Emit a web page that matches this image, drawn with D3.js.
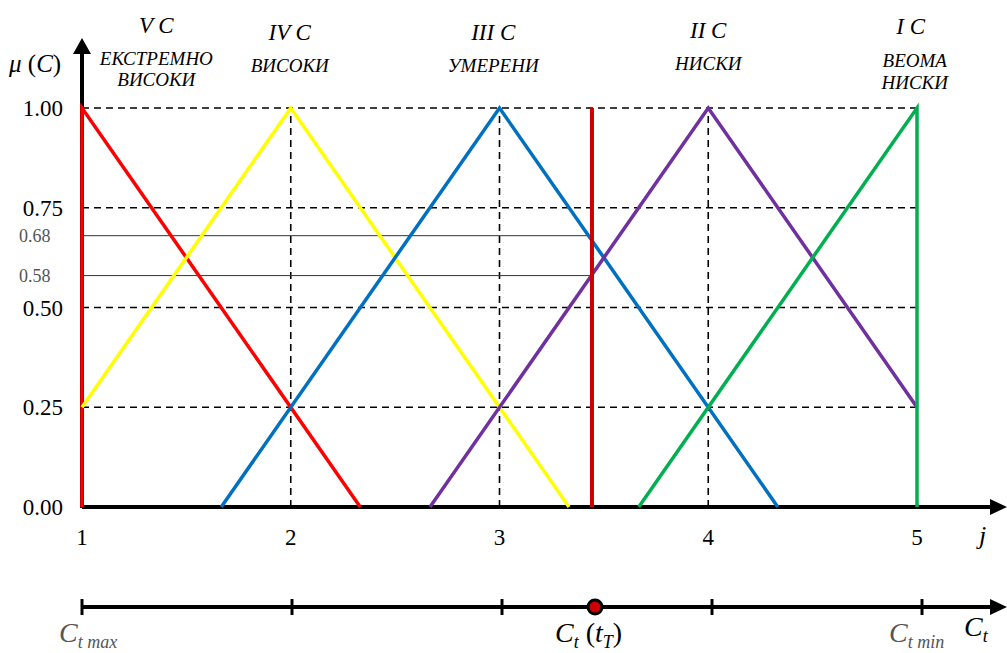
<!DOCTYPE html>
<html><head><meta charset="utf-8">
<script src="https://cdn.jsdelivr.net/npm/d3@7"></script>
<style>body{margin:0;background:#fff}svg{display:block}</style>
</head><body><svg id="c" width="1007" height="653" font-family="Liberation Serif"></svg>
<script>
// ---- data ----
const yTicks = [0, 0.25, 0.5, 0.75, 1];
const yTickLabels = ["0.00", "0.25", "0.50", "0.75", "1.00"];
const xTicks = [1, 2, 3, 4, 5];
const classNames = ["V C", "IV C", "III C", "II C", "I C"];
const classDesc = [["ЕКСТРЕМНО", "ВИСОКИ"], ["ВИСОКИ"], ["УМЕРЕНИ"], ["НИСКИ"], ["ВЕОМА", "НИСКИ"]];
const classPos = [1.356, 1.995, 2.97, 4.0, 4.97];
const seriesV = [[1, 0], [1, 1], [2.333, 0]];
const seriesIV = [[1, 0.25], [2, 1], [3.333, 0]];
const seriesIII = [[1.667, 0], [3, 1], [4.333, 0]];
const seriesII = [[2.667, 0], [4, 1], [5, 0.25]];
const seriesI = [[3.667, 0], [5, 1], [5, 0]];
const seriesColors = ["#ff0000", "#ffff00", "#0070c0", "#7030a0", "#00b050"];
const currentJ = 3.443;
const memberships = [0.68, 0.58];
const membershipLabels = ["0.68", "0.58"];
const bottomTicks = [1, 2, 3, 4, 5];

// ---- drawing ----
const svg = d3.select("#c");
const x = d3.scaleLinear().domain([1, 5]).range([82, 917]);
const y = d3.scaleLinear().domain([0, 1]).range([507, 108]);
const xb = d3.scaleLinear().domain([1, 5]).range([82, 922]);
const yb = 607;

// dashed grid
const g = svg.append("g");
yTicks.slice(1).forEach(t => {
  g.append("line").attr("x1", x(1)).attr("x2", x(5)).attr("y1", y(t)).attr("y2", y(t))
    .attr("stroke", "#000").attr("stroke-width", 1.6).attr("stroke-dasharray", "7,5");
});
xTicks.slice(1, 4).forEach(t => {
  g.append("line").attr("x1", x(t)).attr("x2", x(t)).attr("y1", y(0)).attr("y2", y(1))
    .attr("stroke", "#000").attr("stroke-width", 1.6).attr("stroke-dasharray", "7,5");
});

// membership thin lines
memberships.forEach((m, i) => {
  g.append("line").attr("x1", x(1)).attr("x2", x(currentJ)).attr("y1", y(m)).attr("y2", y(m))
    .attr("stroke", "#333").attr("stroke-width", 1);
  svg.append("text").attr("x", 19).attr("y", y(m) + 6).attr("font-size", 18).attr("fill", "#555").text(membershipLabels[i]);
});

// y axis line + arrow
svg.append("line").attr("x1", x(1)).attr("x2", x(1)).attr("y1", y(0) + 1).attr("y2", 52)
  .attr("stroke", "#000").attr("stroke-width", 4);
svg.append("path").attr("d", `M${x(1)},38 L${x(1) - 9},54 L${x(1) + 9},54 Z`).attr("fill", "#000");
// x axis
svg.append("line").attr("x1", x(1)).attr("x2", 992).attr("y1", y(0)).attr("y2", y(0))
  .attr("stroke", "#000").attr("stroke-width", 4);
svg.append("path").attr("d", `M1007,${y(0)} L990,${y(0) - 8} L990,${y(0) + 8} Z`).attr("fill", "#000");

// series
const line = d3.line().x(d => x(d[0])).y(d => y(d[1]));
[seriesV, seriesIV, seriesIII, seriesII, seriesI].forEach((s, i) => {
  svg.append("path").attr("d", line(s)).attr("fill", "none").attr("stroke", seriesColors[i])
    .attr("stroke-width", 3.5).attr("stroke-linejoin", "miter");
});
// current value line
svg.append("line").attr("x1", x(currentJ)).attr("x2", x(currentJ)).attr("y1", y(0)).attr("y2", y(1))
  .attr("stroke", "#cc0000").attr("stroke-width", 4);

// y tick labels
yTicks.forEach((t, i) => {
  svg.append("text").attr("x", 63).attr("y", y(t) + 8).attr("text-anchor", "end")
    .attr("font-size", 23).text(yTickLabels[i]);
});
// x tick labels
xTicks.forEach(t => {
  svg.append("text").attr("x", x(t)).attr("y", 545).attr("text-anchor", "middle")
    .attr("font-size", 23).text(t);
});
svg.append("text").attr("x", 979).attr("y", 544).attr("font-size", 26).attr("font-style", "italic").text("j");

// y label
const mu = svg.append("text").attr("x", 9).attr("y", 72).attr("font-size", 25);
mu.append("tspan").attr("font-style", "italic").text("μ");
mu.append("tspan").text(" (");
mu.append("tspan").attr("font-style", "italic").text("C");
mu.append("tspan").text(")");

// class labels
const nameY = [33, 40, 40, 38, 34];
const descY = [[65, 86], [72], [72], [70], [67, 89]];
classNames.forEach((n, i) => {
  svg.append("text").attr("x", x(classPos[i])).attr("y", nameY[i]).attr("text-anchor", "middle")
    .attr("font-size", 23).attr("font-style", "italic").text(n);
  classDesc[i].forEach((d, k) => {
    svg.append("text").attr("x", x(classPos[i]) + (i === 4 ? 4 : 0)).attr("y", descY[i][k]).attr("text-anchor", "middle")
      .attr("font-size", 19).attr("font-style", "italic").text(d);
  });
});

// bottom axis
svg.append("line").attr("x1", xb(1)).attr("x2", 992).attr("y1", yb).attr("y2", yb)
  .attr("stroke", "#000").attr("stroke-width", 4);
svg.append("path").attr("d", `M1007,${yb} L990,${yb - 8} L990,${yb + 8} Z`).attr("fill", "#000");
bottomTicks.forEach(t => {
  svg.append("line").attr("x1", xb(t)).attr("x2", xb(t)).attr("y1", yb - 8).attr("y2", yb + 8)
    .attr("stroke", "#000").attr("stroke-width", 3);
});
svg.append("circle").attr("cx", xb(currentJ)).attr("cy", yb).attr("r", 7)
  .attr("fill", "#cc0000").attr("stroke", "#000").attr("stroke-width", 3);

function cLabel(xp, yp, sub, extra, color) {
  const t = svg.append("text").attr("x", xp).attr("y", yp).attr("font-size", 28).attr("fill", color);
  t.append("tspan").attr("font-style", "italic").text("C");
  t.append("tspan").attr("font-style", "italic").attr("font-size", 18).attr("dy", 6).text(sub);
  if (extra) {
    t.append("tspan").attr("dy", -6).text(" (");
    t.append("tspan").attr("font-style", "italic").text("t");
    t.append("tspan").attr("font-style", "italic").attr("font-size", 18).attr("dy", 6).text("T");
    t.append("tspan").attr("dy", -6).text(")");
  }
  return t;
}
cLabel(59, 642, "t max", false, "#555");
cLabel(555, 642, "t", true, "#000");
cLabel(889, 642, "t min", false, "#555");
cLabel(964, 636, "t", false, "#000");
</script></body></html>
